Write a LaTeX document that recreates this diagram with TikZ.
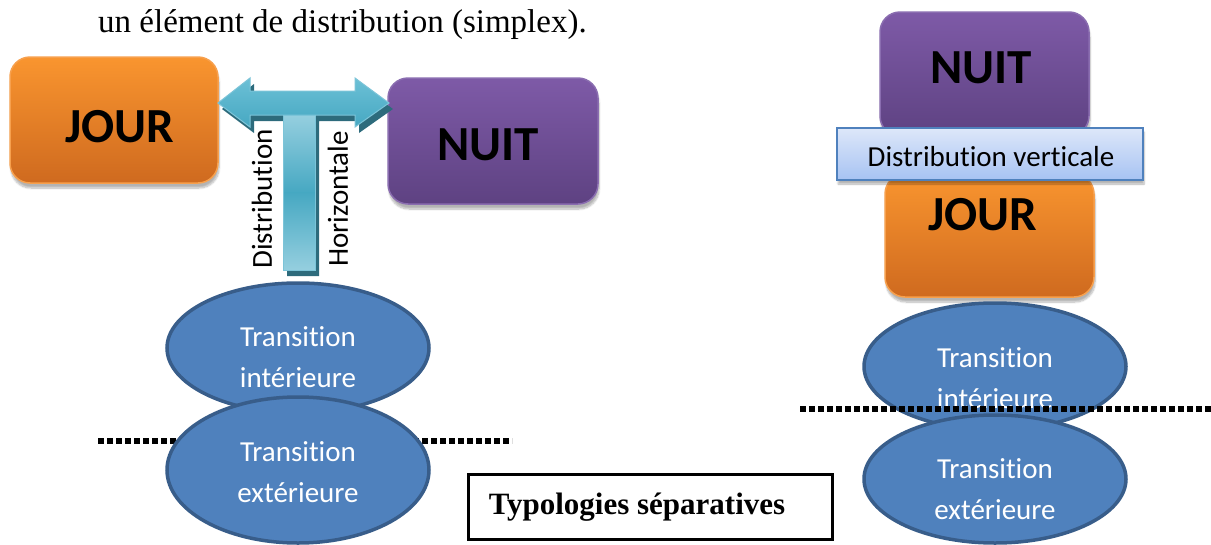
\documentclass[tikz,border=0pt]{standalone}
\usepackage{fontspec}
\setmainfont{Liberation Serif}
\newfontfamily\calib[Ligatures={NoCommon,NoContextual,NoRare},Contextuals=NoAlternate]{Carlito}
\usetikzlibrary{shapes.geometric,shadows.blur}
\definecolor{orTop}{HTML}{F9952F}
\definecolor{orBot}{HTML}{CF6A1F}
\definecolor{orBorder}{HTML}{F7A04D}
\definecolor{puTop}{HTML}{7E5AA7}
\definecolor{puBot}{HTML}{5E4282}
\definecolor{puBorder}{HTML}{8A6DB0}
\definecolor{elFill}{HTML}{4F81BD}
\definecolor{elBorder}{HTML}{385D8A}
\definecolor{tealA}{HTML}{6CC0D6}
\definecolor{tealB}{HTML}{46A8C2}
\definecolor{tealL}{HTML}{95CFDF}
\definecolor{tealEdge}{HTML}{7CC4D8}
\definecolor{tealDark}{HTML}{2D6B7C}
\definecolor{dvTop}{HTML}{DDE7F9}
\definecolor{dvBot}{HTML}{A7C3F3}
\begin{document}
\begin{tikzpicture}[x=1pt,y=-1pt,
  box/.style={rounded corners=20pt, line width=1.5pt, inner sep=0pt,
    blur shadow={shadow xshift=1pt, shadow yshift=-5pt, shadow opacity=30, shadow blur steps=8}},
  orangebox/.style={box, draw=orBorder, top color=orTop, bottom color=orBot},
  purplebox/.style={box, draw=puBorder, top color=puTop, bottom color=puBot},
  big/.style={inner sep=0pt, font=\calib\bfseries\fontsize{49}{52}\selectfont},
  trans/.style={ellipse, draw=elBorder, line width=3.5pt, fill=elFill, inner sep=0pt, minimum width=262pt},
  ttext/.style={inner sep=0pt, text=white, align=center, font=\calib\fontsize{29}{41}\selectfont},
  vtext/.style={inner sep=0pt, rotate=90, font=\calib\fontsize{29}{34}\selectfont},
  dots/.style={line width=5.5pt, dash pattern=on 5.5pt off 3.5pt}
]
\useasboundingbox (0,0) rectangle (1211,544);

% top sentence
\node[anchor=base west, inner sep=0pt, font=\fontsize{33}{38}\selectfont] (intro) at (98,32) {un élément de distribution (simplex).};

% ---------- left: horizontal distribution ----------
\node[orangebox, minimum width=208pt, minimum height=126pt] (jourL) at (114,120) {};
\node[big] (jourLt) at (120,127) {JOUR};
\node[purplebox, minimum width=210pt, minimum height=126pt] (nuitL) at (493,141) {};
\node[big] (nuitLt) at (488,145) {NUIT};

% T-shaped double arrow (shadow)
\fill[tealDark, shift={(4,6)}] (218,103) -- (250,78) -- (250,91) -- (355,91) -- (355,78) -- (389,103)
  -- (355,127) -- (355,115) -- (315,115) -- (315,270) -- (283,270) -- (283,115) -- (250,115) -- (250,127) -- cycle;
% horizontal bar with heads
\shade[top color=tealA, bottom color=tealB, draw=tealEdge, line width=1pt]
  (218,103) -- (250,78) -- (250,91) -- (355,91) -- (355,78) -- (389,103)
  -- (355,127) -- (355,115) -- (250,115) -- (250,127) -- cycle;
% stem
\shade[top color=tealL, bottom color=tealB] (283,115) rectangle (315,193);
\shade[top color=tealB, bottom color=tealL] (283,192.5) rectangle (315,270);
\draw[tealEdge, line width=1pt] (283,115) rectangle (315,270);
\node[vtext] (distH) at (262,199) {Distribution};
\node[vtext] (horiz) at (338,199) {Horizontale};

% transitions left
\node[trans, minimum height=130pt] (tiL) at (298,348) {};
\node[ttext] (tiLt) at (298,357) {Transition\\intérieure};
\coordinate (dl1) at (98,441);
\coordinate (dl2) at (512,441);
\draw[dots] (dl1) -- (dl2);
\node[trans, minimum height=146pt] (teL) at (298,470) {};
\node[ttext] (teLt) at (298,472) {Transition\\extérieure};

% caption box
\node[draw, line width=3pt, inner sep=0pt, minimum width=364pt, minimum height=65pt] (typo) at (650,506.5) {};
\node[inner sep=0pt, font=\bfseries\fontsize{31}{36}\selectfont] (typot) at (637,507) {Typologies séparatives};

% ---------- right: vertical distribution ----------
\node[purplebox, minimum width=209pt, minimum height=124pt] (nuitR) at (984.5,74) {};
\node[big] (nuitRt) at (981,68) {NUIT};
\node[orangebox, minimum width=209pt, minimum height=123pt] (jourR) at (989.5,235.5) {};
\node[big] (jourRt) at (983,215) {JOUR};
\node[draw=elFill, line width=1.5pt, top color=dvTop, bottom color=dvBot, inner sep=0pt,
  minimum width=306pt, minimum height=52pt,
  blur shadow={shadow xshift=1pt, shadow yshift=-4pt, shadow opacity=30, shadow blur steps=6}] (dv) at (990,154) {};
\node[inner sep=0pt, font=\calib\fontsize{29}{34}\selectfont] (dvt) at (991,157) {Distribution verticale};

% transitions right
\node[trans, minimum height=127pt] (tiR) at (995,366.5) {};
\node[ttext] (tiRt) at (995,378) {Transition\\intérieure};
\coordinate (dr1) at (800,409);
\coordinate (dr2) at (1211,409);
\draw[dots] (dr1) -- (dr2);
\node[trans, minimum height=128pt] (teR) at (995,479) {};
\node[ttext] (teRt) at (995,489) {Transition\\extérieure};
\end{tikzpicture}
\end{document}
